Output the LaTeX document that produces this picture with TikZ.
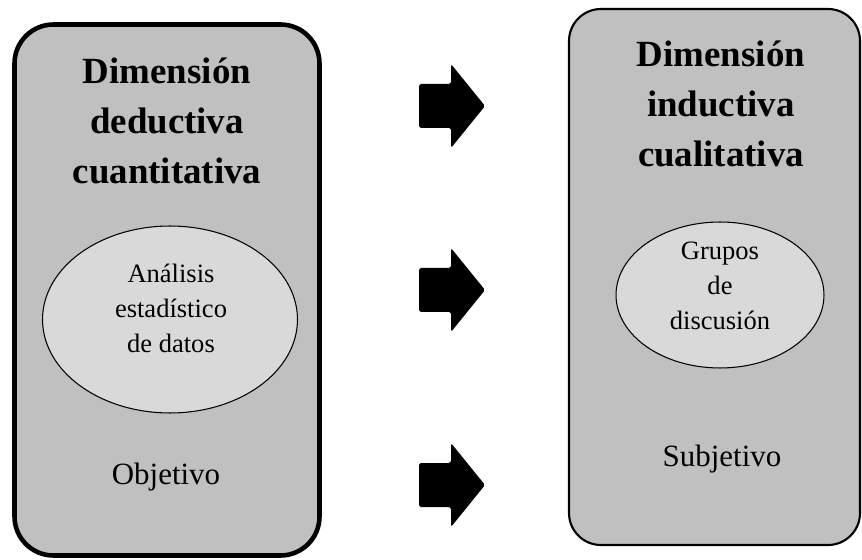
\documentclass[tikz,border=0pt]{standalone}
\usepackage{fontspec}
\setmainfont{Liberation Serif}
\usetikzlibrary{shapes.geometric}
\definecolor{caja}{RGB}{192,192,192}
\definecolor{elipse}{RGB}{217,217,217}
\tikzset{
  titulo/.style={align=center, font={\bfseries\fontsize{21}{28.5}\selectfont}},
  dentro/.style={align=center, font={\fontsize{15.1}{19.9}\selectfont}},
  elip/.style={ellipse, draw, fill=elipse, line width=0.6pt, inner sep=0pt},
  abajo/.style={anchor=base, font={\fontsize{17.6}{20}\selectfont}}
}

\begin{document}
\begin{tikzpicture}[x=0.02cm,y=-0.02cm]
            \useasboundingbox (0,0) rectangle (862,560);
            \draw[line width=2.6pt, fill=caja, rounded corners=0.78cm] (14.5,24.5) rectangle (319.5,555.5);
            \draw[line width=1.2pt, fill=caja, rounded corners=0.64cm] (569,9) rectangle (860,545);
            \node[titulo] (dedu) at (167,121) {Dimensión\\deductiva\\cuantitativa};
            \node[titulo] (indu) at (721,104) {Dimensión\\inductiva\\cualitativa};
            \node[elip, minimum width=5.1cm, minimum height=3.74cm] (E1) at (170,319.5) {};
            \node[dentro] (anal) at (171,308) {Análisis\\estadístico\\de datos};
            \node[elip, minimum width=4.16cm, minimum height=2.92cm] (E2) at (720,295) {};
            \node[dentro] (grup) at (720,286) {Grupos\\de\\discusión};
            \node[abajo] (obj) at (166,484) {Objetivo};
            \node[abajo] (sub) at (722,466) {Subjetivo};
            \foreach \y in {106,290,485}
                \fill[rounded corners=1pt] (419,\y-22) -- (451,\y-22) -- (451,\y-42) -- (485,\y)
                    -- (451,\y+42) -- (451,\y+22) -- (419,\y+22) -- cycle;
        \end{tikzpicture}
\end{document}
